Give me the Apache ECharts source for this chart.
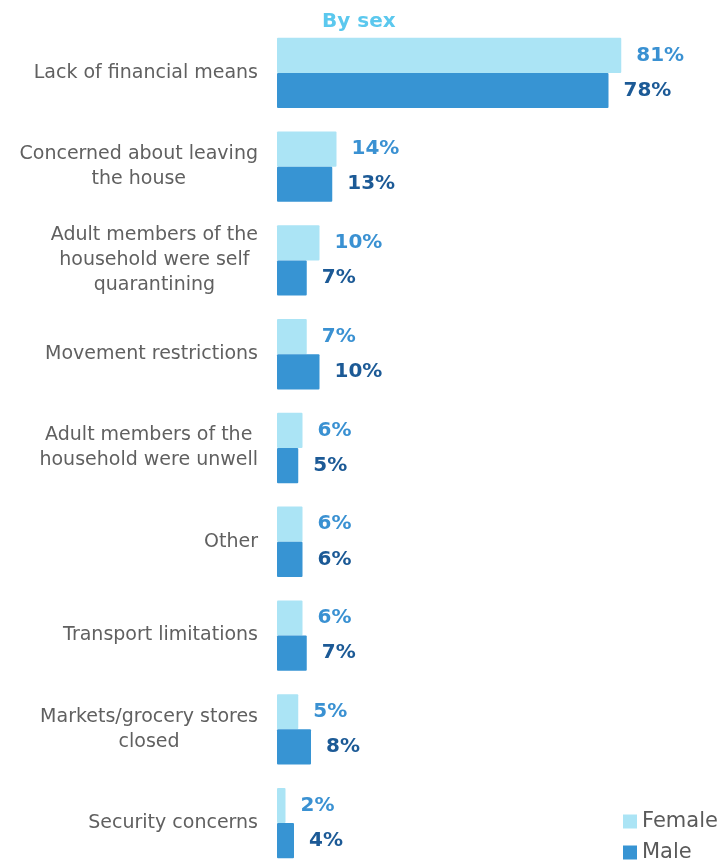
<!DOCTYPE html>
<html>
<head>
<meta charset="utf-8">
<script src="https://cdn.jsdelivr.net/npm/echarts@6/dist/echarts.min.js"></script>
<style>
html,body{margin:0;padding:0;background:#fff;overflow:hidden;}
#chart{width:727px;height:880px;}
</style>
</head>
<body>
<div id="chart"></div>
<script>
var categories = [
  "Lack of financial means",
  "Concerned about leaving\nthe house",
  "Adult members of the\nhousehold were self\nquarantining",
  "Movement restrictions",
  "Adult members of the\nhousehold were unwell",
  "Other",
  "Transport limitations",
  "Markets/grocery stores\nclosed",
  "Security concerns"
];
var female = [81, 14, 10, 7, 6, 6, 6, 5, 2];
var male = [78, 13, 7, 10, 5, 6, 7, 8, 4];

var FONT = 'DejaVu Sans';
var chart = echarts.init(document.getElementById('chart'));
chart.setOption({
  animation: false,
  backgroundColor: '#fff',
  title: {
    text: 'By sex',
    left: 322, top: 12, padding: 0,
    textStyle: {color: '#5BC8EE', fontSize: 20, fontWeight: 'bold', fontFamily: FONT}
  },
  legend: [
    {
      left: 623, top: 811, padding: 0,
      itemWidth: 14, itemHeight: 14,
      icon: 'rect',
      textStyle: {color: '#5a5a5a', fontSize: 21, fontFamily: FONT},
      data: ['Female']
    },
    {
      left: 623, top: 842, padding: 0,
      itemWidth: 14, itemHeight: 14,
      icon: 'rect',
      textStyle: {color: '#5a5a5a', fontSize: 21, fontFamily: FONT},
      data: ['Male']
    }
  ],
  grid: {left: 277, width: 425, top: 26, height: 844, containLabel: false},
  xAxis: {type: 'value', min: 0, max: 100, show: false},
  yAxis: {
    type: 'category', inverse: true, data: categories,
    axisLine: {show: false}, axisTick: {show: false},
    axisLabel: {
      margin: 19, align: 'right',
      color: '#606060', fontSize: 19, fontFamily: FONT, lineHeight: 25,
      formatter: function (v) {
        return v.split('\n').map(function (l) { return '{c|' + l + '}'; }).join('\n');
      },
      rich: {c: {align: 'center', color: '#606060', fontSize: 19, fontFamily: FONT, lineHeight: 25}}
    }
  },
  series: [
    {
      name: 'Female', type: 'bar', data: female,
      barGap: '0%', barCategoryGap: '25%',
      itemStyle: {color: '#ABE4F5', borderRadius: 1},
      label: {show: true, position: 'right', distance: 15, formatter: '{c}%',
        color: '#3A91D2', fontSize: 20, fontWeight: 'bold', fontFamily: FONT}
    },
    {
      name: 'Male', type: 'bar', data: male,
      itemStyle: {color: '#3794D3', borderRadius: 1},
      label: {show: true, position: 'right', distance: 15, formatter: '{c}%',
        color: '#1C5A96', fontSize: 20, fontWeight: 'bold', fontFamily: FONT}
    }
  ]
});
</script>
</body>
</html>
